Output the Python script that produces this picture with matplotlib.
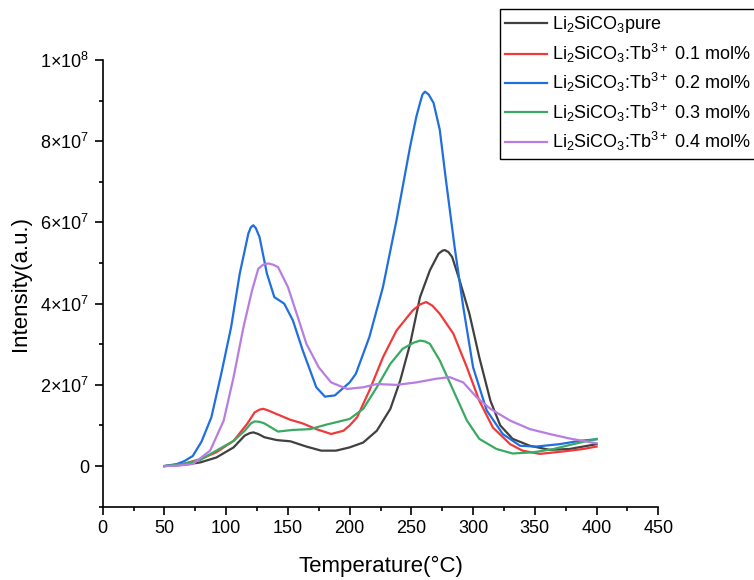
import matplotlib
matplotlib.use("Agg")
import matplotlib.pyplot as plt
from matplotlib.ticker import MultipleLocator, FuncFormatter

plt.rcParams['font.family'] = ['Liberation Sans', 'DejaVu Sans']
plt.rcParams['mathtext.fontset'] = 'custom'
plt.rcParams['mathtext.rm'] = 'Liberation Sans'
plt.rcParams['mathtext.it'] = 'Liberation Sans:italic'
plt.rcParams['mathtext.bf'] = 'Liberation Sans:bold'
plt.rcParams['mathtext.default'] = 'regular'

# values, intensity in units of 1e7
T_pure = [50, 65, 79, 92, 106, 115, 119, 122, 126, 131, 141, 152, 165, 177, 189, 200, 211, 222,
          233, 241, 249, 257, 265, 272, 275, 277, 280, 283, 289, 297, 305, 314, 322, 332, 346,
          362, 378, 400]
I_pure = [0, 0.03, 0.09, 0.21, 0.46, 0.75, 0.81, 0.83, 0.79, 0.71, 0.64, 0.61, 0.48, 0.38, 0.38,
          0.46, 0.58, 0.87, 1.41, 2.11, 3.01, 4.16, 4.82, 5.23, 5.3, 5.32, 5.27, 5.15, 4.58, 3.75,
          2.68, 1.61, 1.0, 0.67, 0.5, 0.4, 0.42, 0.54]

T_01 = [50, 65, 79, 92, 106, 117, 123, 127, 130, 134, 141, 152, 162, 173, 185, 195, 200, 206,
        216, 227, 238, 251, 257, 262, 267, 273, 284, 295, 305, 316, 330, 340, 354, 373, 389, 400]
I_01 = [0, 0.05, 0.17, 0.34, 0.62, 1.04, 1.32, 1.39, 1.41, 1.37, 1.28, 1.14, 1.05, 0.91, 0.79,
        0.87, 1.0, 1.2, 1.86, 2.68, 3.34, 3.83, 3.98, 4.04, 3.95, 3.75, 3.26, 2.43, 1.61, 0.95,
        0.54, 0.38, 0.3, 0.36, 0.42, 0.48]

T_02 = [50, 60, 66, 73, 80, 88, 96, 104, 111, 118, 120, 122, 124, 127, 133, 139, 147, 154, 162,
        173, 180, 188, 200, 205, 216, 227, 238, 249, 254, 257, 259, 261, 264, 268, 273, 278, 285,
        292, 300, 311, 324, 338, 351, 370, 386, 400]
I_02 = [0, 0.05, 0.12, 0.25, 0.6, 1.2, 2.27, 3.42, 4.74, 5.73, 5.88, 5.93, 5.86, 5.64, 4.74,
        4.16, 4.0, 3.59, 2.85, 1.94, 1.71, 1.74, 2.06, 2.27, 3.18, 4.41, 6.06, 7.87, 8.6, 8.94,
        9.15, 9.22, 9.15, 8.94, 8.28, 7.04, 5.4, 3.92, 2.43, 1.37, 0.79, 0.5, 0.48, 0.54, 0.62,
        0.66]

T_03 = [50, 65, 79, 92, 106, 115, 120, 123, 127, 131, 142, 154, 168, 181, 200, 211, 222, 233,
        243, 252, 257, 261, 265, 273, 284, 295, 305, 319, 332, 349, 365, 381, 400]
I_03 = [0, 0.05, 0.15, 0.38, 0.62, 0.87, 1.05, 1.1, 1.09, 1.05, 0.85, 0.89, 0.91, 1.02, 1.16,
        1.41, 1.94, 2.52, 2.89, 3.04, 3.09, 3.07, 3.01, 2.6, 1.86, 1.12, 0.67, 0.42, 0.31, 0.34,
        0.42, 0.54, 0.67]

T_04 = [50, 60, 73, 87, 98, 106, 114, 121, 126, 130, 134, 138, 142, 150, 158, 165, 175, 185,
        198, 211, 222, 238, 254, 270, 281, 292, 303, 314, 330, 346, 362, 378, 400]
I_04 = [0, 0.01, 0.05, 0.38, 1.12, 2.19, 3.42, 4.33, 4.86, 4.96, 4.99, 4.96, 4.9, 4.41, 3.67,
        3.01, 2.43, 2.06, 1.9, 1.94, 2.02, 2.0, 2.06, 2.15, 2.19, 2.06, 1.69, 1.41, 1.12, 0.91,
        0.79, 0.68, 0.56]

labels = [r'Li$_2$SiCO$_3$pure',
          r'Li$_2$SiCO$_3$:Tb$^{3+}$ 0.1 mol%',
          r'Li$_2$SiCO$_3$:Tb$^{3+}$ 0.2 mol%',
          r'Li$_2$SiCO$_3$:Tb$^{3+}$ 0.3 mol%',
          r'Li$_2$SiCO$_3$:Tb$^{3+}$ 0.4 mol%']
colors = ['#404040', '#f03a3a', '#1f6fe0', '#3aaa62', '#b77de0']
series = [(T_pure, I_pure), (T_01, I_01), (T_02, I_02), (T_03, I_03), (T_04, I_04)]

fig = plt.figure(figsize=(7.54, 5.8), dpi=100)
ax = fig.add_axes([0.1362, 0.1264, 0.7369, 0.7702])

for (t, i), c, lab in zip(series, colors, labels):
    ax.plot(t, [v * 1e7 for v in i], color=c, lw=1.6, label=lab)

ax.set_xlim(0, 450)
ax.set_ylim(-1e7, 1e8)
ax.xaxis.set_major_locator(MultipleLocator(50))
ax.xaxis.set_minor_locator(MultipleLocator(25))
ax.yaxis.set_major_locator(MultipleLocator(2e7))
ax.yaxis.set_minor_locator(MultipleLocator(1e7))


def sci(v, pos):
    if abs(v) < 1:
        return '0'
    exp = 0
    m = v
    while abs(m) >= 10:
        m /= 10
        exp += 1
    return r'%d$\times$10$^{%d}$' % (round(m), exp)


ax.yaxis.set_major_formatter(FuncFormatter(sci))

for s in ['top', 'right']:
    ax.spines[s].set_visible(False)
for s in ['left', 'bottom']:
    ax.spines[s].set_linewidth(1.2)
ax.tick_params(which='major', length=6, width=1.2, labelsize=13, direction='out')
ax.tick_params(which='minor', length=3, width=1.2, direction='out')

ax.set_xlabel('Temperature(°C)', fontsize=16, labelpad=14)
ax.set_ylabel('Intensity(a.u.)', fontsize=16, labelpad=7)

fig.legend(loc='upper left', bbox_to_anchor=(500 / 754, 1 - 9 / 580), fontsize=13,
           frameon=True, fancybox=False, framealpha=1, edgecolor='black',
           borderaxespad=0, borderpad=0.3, handlelength=2.3, handletextpad=0.3,
           labelspacing=0.35)

fig.savefig('out.png', dpi=100)
